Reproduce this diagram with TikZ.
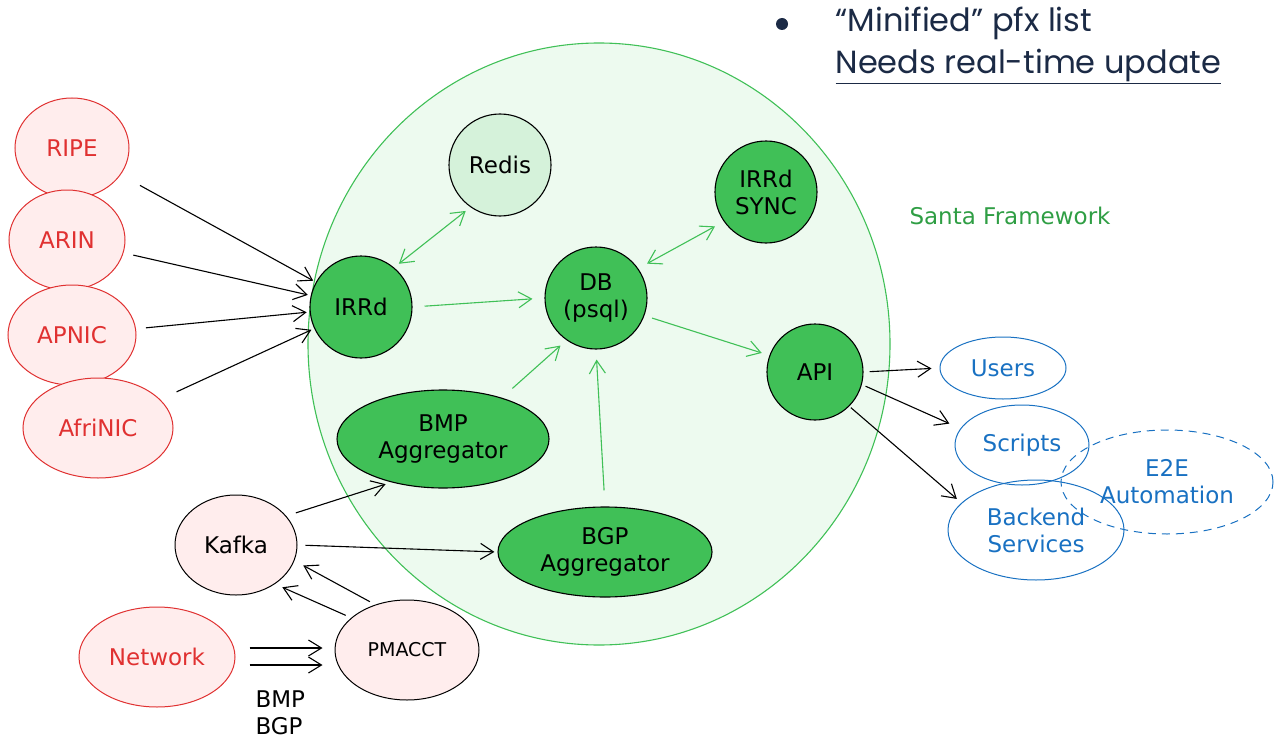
\documentclass[tikz,border=0pt]{standalone}
\usepackage{fontspec}
\setmainfont{DejaVu Sans}
\newfontfamily\topfont{Poppins}
\usetikzlibrary{shapes.geometric,arrows.meta}
\definecolor{exred}{HTML}{E03131}
\definecolor{exredfill}{HTML}{FFEDED}
\definecolor{exgreen}{HTML}{40C057}
\definecolor{exgreendark}{HTML}{2F9E44}
\definecolor{exgreenfill}{HTML}{EDFAEF}
\definecolor{exblue}{HTML}{1971C2}
\definecolor{navy}{HTML}{1B2A45}
\begin{document}
\begin{tikzpicture}[x=1pt, y=-1pt, font=\fontsize{23}{27}\selectfont,
src/.style = {draw=exred, fill=exredfill, text=exred, ellipse, line width=1pt, inner sep=0pt},
core/.style = {draw=black, fill=exgreen, circle, line width=1.1pt, inner sep=0pt, minimum size=102pt},
agg/.style = {draw=black, fill=exgreen, ellipse, line width=1.1pt, inner sep=0pt, align=center},
feed/.style = {draw=black, fill=exredfill, ellipse, line width=1pt, inner sep=0pt},
user/.style = {draw=exblue, text=exblue, ellipse, line width=1pt, inner sep=0pt, align=center},
arr/.style = {-{Straight Barb[length=13pt, width=16pt]}, line width=1.1pt},
garr/.style = {arr, draw=exgreen},
garr2/.style = {{Straight Barb[length=13pt, width=16pt]}-{Straight Barb[length=13pt, width=16pt]}, line width=1.1pt, draw=exgreen}]
\useasboundingbox (0,0) rectangle (1274,741);

% framework
\node[ellipse, draw=exgreen, fill=exgreenfill, line width=1.1pt, minimum width=582pt, minimum height=602pt] (0) at (599,344) {};
\node[text=exgreendark] (20) at (1010,216) {Santa Framework};

% sources
\node[src, minimum width=114pt, minimum height=100pt] (1) at (72,148) {RIPE};
\node[src, minimum width=116pt, minimum height=100pt] (2) at (67,240) {ARIN};
\node[src, minimum width=128pt, minimum height=100pt] (3) at (72,335) {APNIC};
\node[src, minimum width=150pt, minimum height=100pt] (4) at (98,428) {AfriNIC};
\node[src, minimum width=156pt, minimum height=100pt] (5) at (157,657) {Network};

% inside
\node[core] (6) at (361,307) {IRRd};
\node[core, fill=exgreenfill!70!exgreen!60!white] (7) at (500,165) {Redis};
\node[core, align=center] (8) at (596,298) {DB\\(psql)};
\node[core, align=center] (9) at (766,192) {IRRd\\SYNC};
\node[core, minimum size=96pt] (10) at (815,372) {API};
\node[agg, minimum width=212pt, minimum height=98pt] (11) at (443,439) {BMP\\Aggregator};
\node[agg, minimum width=214pt, minimum height=90pt] (12) at (605,552) {BGP\\Aggregator};

% collectors
\node[feed, minimum width=122pt, minimum height=100pt] (13) at (236,545) {Kafka};
\node[feed, minimum width=144pt, minimum height=100pt, font=\fontsize{19}{22}\selectfont] (14) at (407,650) {PMACCT};
\node[align=left, anchor=west] (21) at (252,713) {BMP\\BGP};

% consumers
\node[ellipse, draw=exblue, dash pattern=on 8pt off 6pt, line width=1pt, text=exblue, align=center, minimum width=212pt, minimum height=104pt, inner sep=0pt] (18) at (1167,482) {E2E\\Automation};
\node[user, minimum width=126pt, minimum height=62pt] (15) at (1003,368) {Users};
\node[user, minimum width=134pt, minimum height=80pt] (16) at (1022,445) {Scripts};
\node[user, minimum width=176pt, minimum height=100pt] (17) at (1036,530) {Backend\\Services};

% note
\node[circle, fill=navy, inner sep=0pt, minimum size=12pt] (22) at (782,24) {};
\node[anchor=west, text=navy, font=\topfont\fontsize{32}{36}\selectfont] (23) at (832,23) {“Minified” pfx list};
\node[anchor=west, text=navy, font=\topfont\fontsize{32}{36}\selectfont] (24) at (832,66) {\underline{Needs real-time update}};

\draw[arr, shorten <=22pt, shorten >=3pt] (1) -- (6);
\draw[arr, shorten <=10pt, shorten >=3pt] (2) -- (6);
\draw[arr, shorten <=10pt, shorten >=3pt] (3) -- (6);
\draw[arr, shorten <=18pt, shorten >=3pt] (4) -- (6);

\draw[garr2, shorten <=6pt, shorten >=6pt] (6.50) -- (7.-125);
\draw[garr, shorten <=12pt, shorten >=12pt] (6.east) -- (8.west);
\draw[garr2, shorten <=10pt, shorten >=10pt] (8.35) -- (9.-145);
\draw[garr, shorten <=8pt, shorten >=8pt] (8.-20) -- (10.160);
\draw[garr, shorten <=14pt, shorten >=8pt] (11.35) -- (8.-125);
\draw[garr, shorten <=16pt, shorten >=10pt] (12.north) -- (8.south);

\draw[arr, shorten <=10pt, shorten >=6pt] (13.30) -- (11.-140);
\draw[arr, shorten <=8pt, shorten >=3pt] (13.east) -- (12.west);
\draw[arr, shorten <=6pt, shorten >=10pt] (14.125) -- (13.-15);
\draw[arr, shorten <=6pt, shorten >=8pt] (14.150) -- (13.-45);
\draw[arr, shorten <=14pt, shorten >=12pt] ([yshift=9pt]5.east) -- ([yshift=2pt]14.west);
\draw[arr, shorten <=14pt, shorten >=12pt] ([yshift=-8pt]5.east) -- ([yshift=-15pt]14.west);

\draw[arr, shorten <=6pt, shorten >=8pt] (10.east) -- (15.west);
\draw[arr, shorten <=4pt, shorten >=12pt] (10.-15) -- (16.165);
\draw[arr, shorten <=2pt, shorten >=6pt] (10.-45) -- (17.160);
\end{tikzpicture}
\end{document}
